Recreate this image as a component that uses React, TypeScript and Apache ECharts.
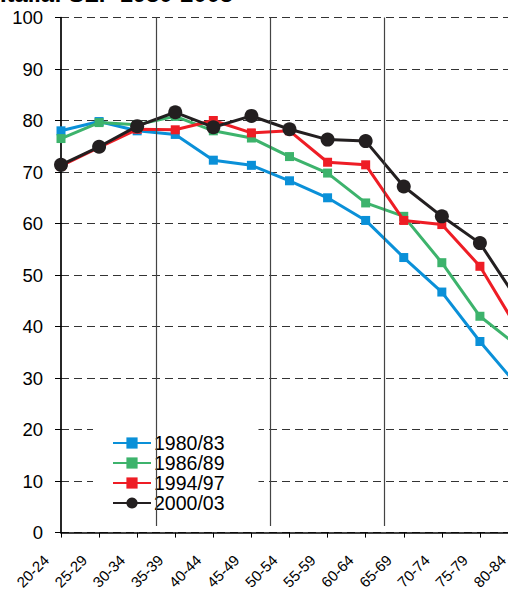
import React, { useEffect, useRef } from "react";
import * as echarts from "echarts";

const categories = ["20-24", "25-29", "30-34", "35-39", "40-44", "45-49", "50-54", "55-59", "60-64", "65-69", "70-74", "75-79", "80-84"];
const seriesNames = ["1980/83", "1986/89", "1994/97", "2000/03"];
const s1980 = [78.0, 79.8, 78.0, 77.3, 72.3, 71.3, 68.3, 65.0, 60.6, 53.4, 46.7, 37.1, 28.4];
const s1986 = [76.5, 79.6, 79.2, 80.8, 78.0, 76.6, 73.0, 69.8, 64.0, 61.4, 52.4, 42.0, 36.2];
const s1994 = [71.2, 74.8, 78.3, 78.2, 80.0, 77.6, 78.0, 71.9, 71.4, 60.6, 59.8, 51.7, 39.4];
const s2000 = [71.4, 74.9, 78.9, 81.6, 78.7, 80.9, 78.3, 76.3, 76.0, 67.2, 61.4, 56.2, 45.0];
const dividers = [2.5, 5.5, 8.5];
const colors = ["#0a90d8", "#3db36c", "#ee1d25", "#231f20"];
const FONT = "Liberation Sans, Arial, Helvetica, sans-serif";

export default function App() {
  const ref = useRef<HTMLDivElement>(null);
  useEffect(() => {
    if (!ref.current) return;
    const chart = echarts.init(ref.current, null, { renderer: "svg" });
    const values = [s1980, s1986, s1994, s2000];
    const lineSeries = values.map((data, i) => ({
      type: "line",
      name: seriesNames[i],
      data,
      xAxisIndex: 0,
      yAxisIndex: 0,
      symbol: i === 3 ? "circle" : "rect",
      symbolSize: i === 3 ? 14 : 9,
      lineStyle: { color: colors[i], width: 3 },
      itemStyle: { color: colors[i] },
      z: 2 + i * 0.01,
    }));
    chart.setOption({
      animation: false,
      title: {
        text: "Italia: SLF 1980-2003",
        left: 0,
        top: -18,
        padding: 0,
        textStyle: { fontFamily: FONT, fontSize: 23.7, fontWeight: "bold", color: "#000" },
      },
      legend: {
        data: seriesNames,
        orient: "vertical",
        left: 93,
        top: 421,
        padding: [12, 34, 12, 19],
        itemGap: 0,
        itemWidth: 38,
        itemHeight: 14,
        backgroundColor: "#fff",
        z: 3,
        textStyle: { fontFamily: FONT, fontSize: 19.5, color: "#000", lineHeight: 19.4, padding: [0, 0, 0, -2] },
      },
      grid: { left: 61, right: 0, top: 17.5, bottom: 57, containLabel: false },
      xAxis: [
        {
          type: "category",
          data: categories,
          boundaryGap: false,
          axisLine: { lineStyle: { color: "#000", width: 1.5 } },
          axisTick: { show: true, length: 5, lineStyle: { color: "#000", width: 1 } },
          axisLabel: {
            interval: 0,
            rotate: 45,
            margin: 10,
            padding: [0, 21, 0, 0],
            fontFamily: FONT,
            fontSize: 15,
            color: "#000",
          },
          splitLine: { show: false },
        },
        { type: "value", min: 0, max: 12, show: false },
      ],
      yAxis: {
        type: "value",
        min: 0,
        max: 100,
        interval: 10,
        axisLine: { show: true, lineStyle: { color: "#000", width: 1.7 } },
        axisTick: { show: true, length: 6, lineStyle: { color: "#000", width: 1 } },
        axisLabel: { margin: 18, fontFamily: FONT, fontSize: 18.5, color: "#000" },
        splitLine: { show: true, lineStyle: { color: "#333", width: 1, type: [8, 5] } },
      },
      series: [
        ...lineSeries,
        {
          type: "line",
          xAxisIndex: 1,
          yAxisIndex: 0,
          data: [],
          z: 5,
          markLine: {
            silent: true,
            symbol: "none",
            label: { show: false },
            lineStyle: { color: "#444", width: 1.2, type: "solid" },
            data: dividers.map((d) => [{ coord: [d, 1.3] }, { coord: [d, 100] }]),
          },
        },
      ],
    });
    return () => chart.dispose();
  }, []);
  return (
    <div style={{ position: "absolute", left: 0, top: 0, width: 508, height: 592, overflow: "hidden" }}>
      <div ref={ref} style={{ position: "absolute", left: 0, top: 0, width: 518, height: 592 }} />
    </div>
  );
}
